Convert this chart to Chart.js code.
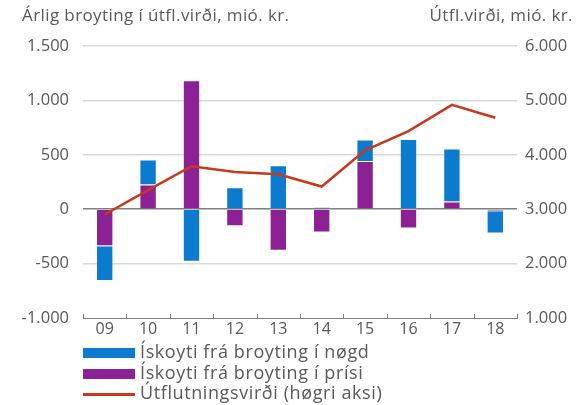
<!DOCTYPE html>
<html>
<head>
<meta charset="utf-8">
<script src="https://cdn.jsdelivr.net/npm/chart.js@4"></script>
<style>
  body { margin: 0; background: #fff; font-family: "Open Sans", sans-serif; color: #595959; }
  #wrap { position: relative; width: 586px; height: 405px; }
  .title { position: absolute; top: 3px; font-size: 17px; letter-spacing: 0.4px; white-space: nowrap; }
  #legend { position: absolute; left: 83px; top: 341px; font-size: 18px; letter-spacing: 0.6px; }
  .item { height: 20.5px; line-height: 20.5px; white-space: nowrap; }
  .box { display: inline-block; width: 52px; vertical-align: middle; margin-right: 5px; }
</style>
</head>
<body>
<div id="wrap">
  <canvas id="chart" width="586" height="405"></canvas>
  <div class="title" style="left:22px;">Árlig broyting í útfl.virði, mió. kr.</div>
  <div class="title" style="right:13px;">Útfl.virði, mió. kr.</div>
  <div id="legend"></div>
</div>
<script>
var years = ['09', '10', '11', '12', '13', '14', '15', '16', '17', '18'];
var nogd = [-320, 230, -484, 202, 404, 18, 196, 646, 488, -205];
var prisi = [-340, 227, 1185, -156, -383, -214, 444, -178, 70, -18];
var virdi = [2903, 3350, 3790, 3686, 3643, 3417, 4084, 4434, 4918, 4680];

var blue = '#0a7bcf';
var purple = '#8c2196';
var red = '#c8381a';
var font = 'Open Sans';

function fmt(v) {
    return v.toLocaleString('de-DE');
}

// small tick marks pointing up from the x axis, between categories
var tickMarks = {
    id: 'tickMarks',
    afterDraw: function(chart) {
        var ctx = chart.ctx;
        var a = chart.chartArea;
        var n = years.length;
        ctx.save();
        ctx.strokeStyle = '#7f7f7f';
        ctx.lineWidth = 1;
        for (var i = 0; i <= n; i++) {
            var x = Math.round(a.left + i * (a.right - a.left) / n) + 0.5;
            ctx.beginPath();
            ctx.moveTo(x, a.bottom - 4);
            ctx.lineTo(x, a.bottom);
            ctx.stroke();
        }
        ctx.restore();
    }
};

var ctx = document.getElementById('chart').getContext('2d');
var chart = new Chart(ctx, {
    type: 'bar',
    data: {
        labels: years,
        datasets: [{
            label: 'Ískoyti frá broyting í prísi',
            data: prisi,
            backgroundColor: purple,
            borderColor: 'rgba(255,255,255,0.3)',
            borderWidth: 1,
            barPercentage: 0.4,
            categoryPercentage: 1,
            order: 1
        }, {
            label: 'Ískoyti frá broyting í nøgd',
            data: nogd,
            backgroundColor: blue,
            borderColor: 'rgba(255,255,255,0.3)',
            borderWidth: 1,
            barPercentage: 0.4,
            categoryPercentage: 1,
            order: 1
        }, {
            type: 'line',
            label: 'Útflutningsvirði (høgri aksi)',
            data: virdi,
            yAxisID: 'y1',
            borderColor: red,
            borderWidth: 2.5,
            pointRadius: 0,
            tension: 0,
            fill: false,
            order: 0
        }]
    },
    options: {
        responsive: false,
        animation: false,
        layout: { padding: { top: 46, left: 0, right: 0, bottom: 0 } },
        plugins: {
            legend: { display: false },
            tooltip: { enabled: false }
        },
        scales: {
            x: {
                stacked: true,
                offset: true,
                grid: { display: false, drawTicks: false },
                border: { display: true, color: '#7f7f7f', width: 1 },
                ticks: { color: '#595959', font: { family: font, size: 16 }, padding: 2 },
                afterFit: function(s) { s.height = 87; }
            },
            y: {
                stacked: true,
                position: 'left',
                min: -1000,
                max: 1500,
                ticks: {
                    stepSize: 500,
                    color: '#595959',
                    font: { family: font, size: 16.5 },
                    padding: 14,
                    callback: function(v) { return fmt(v); }
                },
                grid: {
                    drawTicks: false,
                    color: function(c) {
                        if (c.tick.value === 0) return '#7f7f7f';
                        if (c.tick.value === -1000) return 'rgba(0,0,0,0)';
                        return '#d9d9d9';
                    },
                    lineWidth: 1.5
                },
                border: { display: false },
                afterFit: function(s) { s.width = 83; }
            },
            y1: {
                position: 'right',
                min: 1000,
                max: 6000,
                ticks: {
                    stepSize: 1000,
                    color: '#595959',
                    font: { family: font, size: 16.5 },
                    padding: 8,
                    callback: function(v) { return fmt(v); }
                },
                grid: { drawOnChartArea: false, drawTicks: false },
                border: { display: false },
                afterFit: function(s) { s.width = 69; }
            }
        }
    },
    plugins: [tickMarks]
});

// legend below the chart, one item per row
var legendItems = [
    { text: 'Ískoyti frá broyting í nøgd', color: blue, h: 10 },
    { text: 'Ískoyti frá broyting í prísi', color: purple, h: 10 },
    { text: 'Útflutningsvirði (høgri aksi)', color: red, h: 3 }
];
var legend = document.getElementById('legend');
legendItems.forEach(function(item) {
    legend.innerHTML += '<div class="item"><span class="box" style="height:' + item.h + 'px;background:' + item.color + '"></span>' + item.text + '</div>';
});
</script>
</body>
</html>
